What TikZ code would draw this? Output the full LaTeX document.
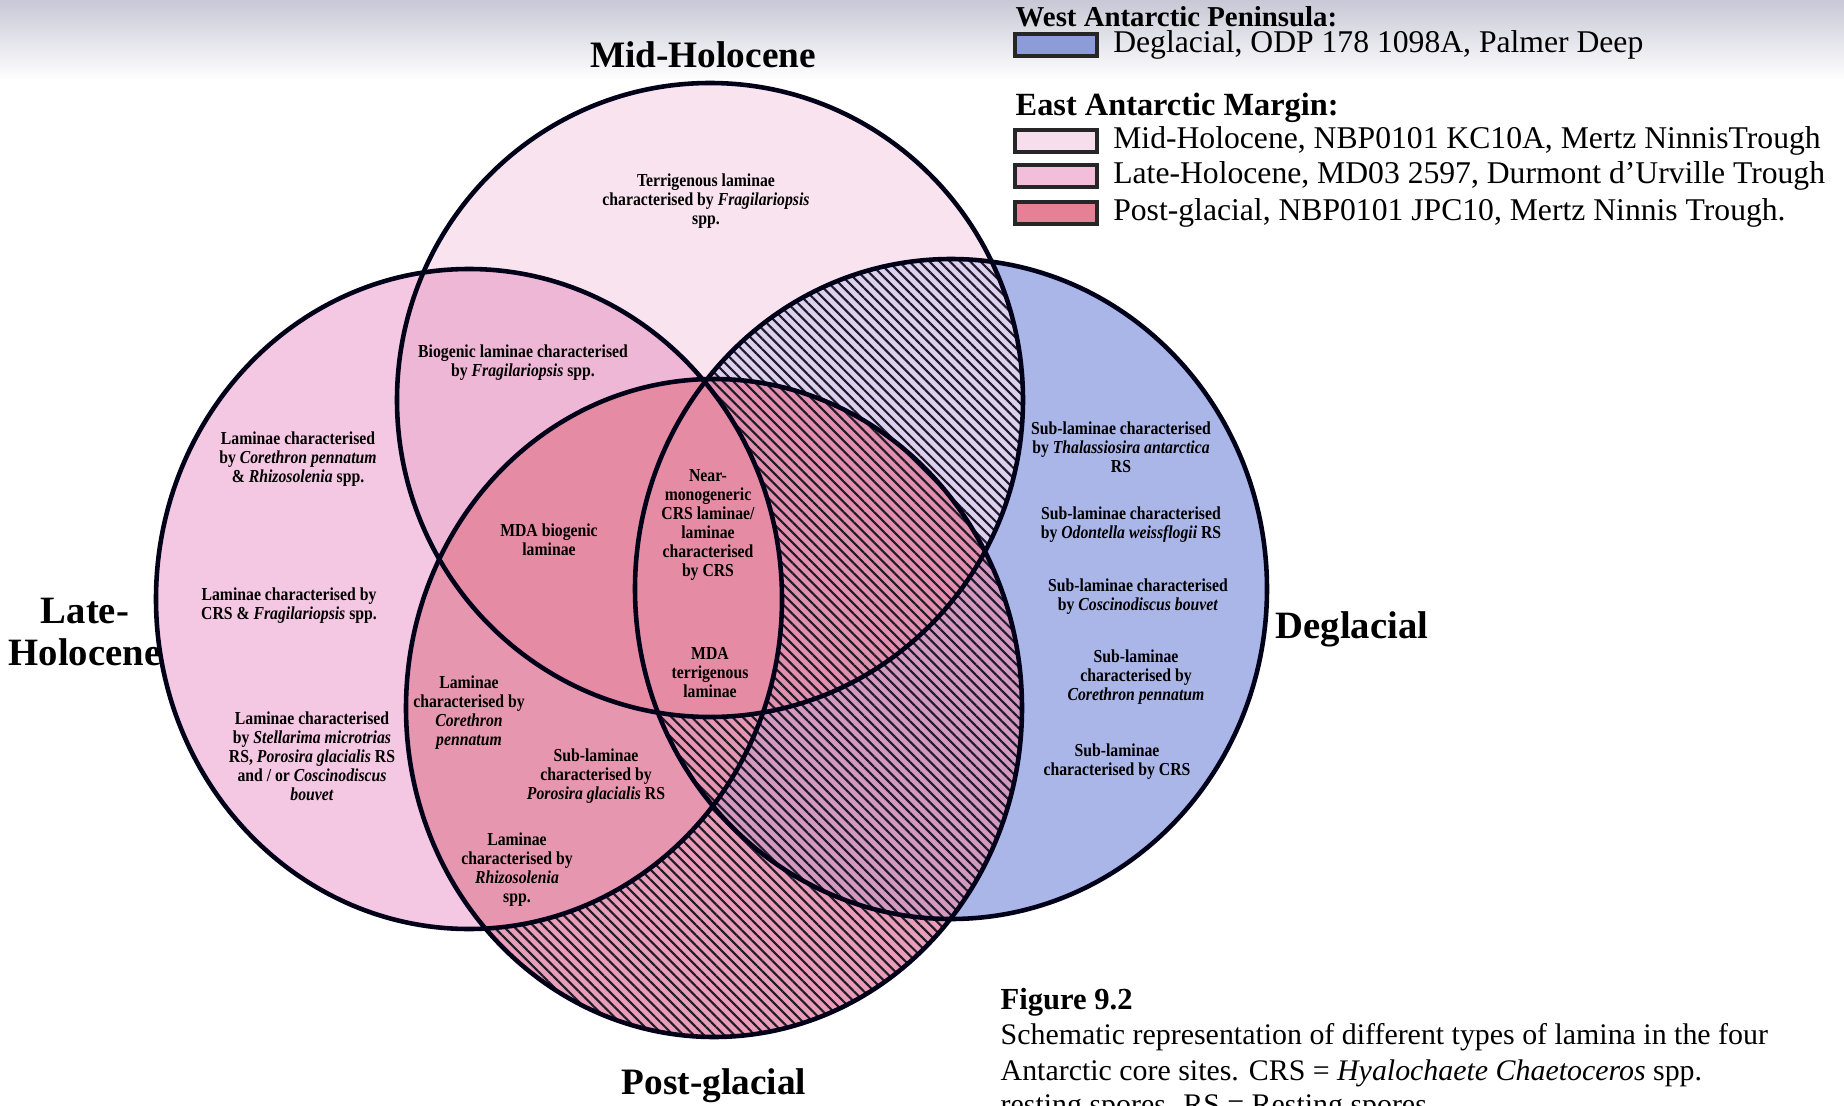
\documentclass[tikz,border=0pt]{standalone}
\usepackage{fontspec}
\setmainfont{Liberation Serif}
\newfontfamily\lamfont[FakeStretch=0.86]{Liberation Serif}
\usetikzlibrary{positioning,patterns.meta}

% 填充颜色
\definecolor{midfill}{HTML}{F8E3EF}
\definecolor{latefill}{HTML}{F4C7E2}
\definecolor{midlatefill}{HTML}{EFB7D6}
\definecolor{postfill}{HTML}{E99DB7}
\definecolor{postlatefill}{HTML}{E796B0}
\definecolor{postmidfill}{HTML}{E58CA4}
\definecolor{degfill}{HTML}{AAB5E8}
\definecolor{degmidfill}{HTML}{DDD1F0}
\definecolor{degpostfill}{HTML}{D399C0}
\definecolor{degpostmidfill}{HTML}{E290AE}
\definecolor{hatchcol}{HTML}{1E1A28}
\definecolor{degbox}{HTML}{8E9BD9}
\definecolor{midbox}{HTML}{F6DEEC}
\definecolor{latebox}{HTML}{F3BEDA}
\definecolor{postbox}{HTML}{E68094}

% 四个椭圆
\newcommand{\ellM}{(710,400) ellipse [x radius=313, y radius=317]}
\newcommand{\ellL}{(469,599) ellipse [x radius=313, y radius=330]}
\newcommand{\ellD}{(951,589) ellipse [x radius=316, y radius=330]}
\newcommand{\ellP}{(714,708) ellipse [x radius=308, y radius=329]}
\newcommand{\wholebox}{(0,0) rectangle (1844,1106)}

\begin{document}
\begin{tikzpicture}[x=0.01cm, y=-0.01cm,
    rim/.style={draw=black!90!blue, line width=1.3pt},
    hatch/.style={pattern={Lines[angle=-45, distance=2.05pt, line width=0.6pt]}, pattern color=hatchcol},
    lam/.style={align=center, inner sep=0pt, font=\lamfont\bfseries\fontsize{5.2}{5.4}\selectfont},
    site/.style={align=center, inner sep=0pt, font=\bfseries\fontsize{10.6}{11.7}\selectfont},
    legbox/.style={draw=black!85, line width=0.9pt, minimum width=0.82cm, minimum height=0.22cm, inner sep=0pt},
    legtxt/.style={anchor=west, inner sep=0pt, font=\fontsize{9}{10}\selectfont},
    captxt/.style={anchor=west, inner sep=0pt, font=\fontsize{8.5}{10}\selectfont}]
    \useasboundingbox \wholebox;
    \fill[white] \wholebox;
    \shade[top color={rgb,255:red,200;green,200;blue,214}, bottom color=white] (0,0) rectangle (1844,80);

    % 底色
    \fill[latefill] \ellL;
    \fill[midfill] \ellM;
    \begin{scope} \clip \ellL; \fill[midlatefill] \ellM; \end{scope}
    \fill[postfill] \ellP;
    \begin{scope} \clip \ellP; \fill[postlatefill] \ellL; \fill[postmidfill] \ellM; \end{scope}
    \fill[degfill] \ellD;
    \begin{scope}
        \clip \ellD; \fill[degmidfill] \ellM; \fill[degpostfill] \ellP;
        \clip \ellP; \fill[degpostmidfill] \ellM;
    \end{scope}
    \begin{scope}
        \clip \ellD; \clip \ellL; \fill[postlatefill] \ellP;
        \clip \ellP; \fill[postmidfill] \ellM;
    \end{scope}

    % 斜线
    \begin{scope} \clip \ellP; \fill[hatch, even odd rule] \wholebox \ellL; \end{scope}
    \begin{scope} \clip \ellD; \clip \ellM; \fill[hatch, even odd rule] \wholebox \ellP; \end{scope}
    \begin{scope} \clip \ellD; \clip \ellP; \clip \ellL; \fill[hatch, even odd rule] \wholebox \ellM; \end{scope}

    % 边线
    \draw[rim] \ellM;
    \draw[rim] \ellL;
    \draw[rim] \ellD;
    \draw[rim] \ellP;

    % 名称
    \node[site] (midlab) at (703,55) {Mid-Holocene};
    \node[site, font=\bfseries\fontsize{11}{11.7}\selectfont] (latelab) at (85,632) {Late-\\Holocene};
    \node[site, font=\bfseries\fontsize{11}{12}\selectfont] (deglab) at (1352,629) {Deglacial};
    \node[site] (postlab) at (714,1086) {Post-glacial};

    % 各区文字
    \node[lam] (l1) at (706,201) {Terrigenous laminae\\characterised by \textit{Fragilariopsis}\\spp.};
    \node[lam] (l2) at (523,363) {Biogenic laminae characterised\\by \textit{Fragilariopsis} spp.};
    \node[lam] (l3) at (298,459) {Laminae characterised\\by \textit{Corethron pennatum}\\\& \textit{Rhizosolenia} spp.};
    \node[lam] (l4) at (289,606) {Laminae characterised by\\CRS \& \textit{Fragilariopsis} spp.};
    \node[lam] (l5) at (312,756) {Laminae characterised\\by \textit{Stellarima microtrias}\\RS, \textit{Porosira glacialis} RS\\and / or \textit{Coscinodiscus}\\\textit{bouvet}};
    \node[lam] (l6) at (549,540) {MDA biogenic\\laminae};
    \node[lam] (l7) at (708,525) {Near-\\monogeneric\\CRS laminae/\\laminae\\characterised\\by CRS};
    \node[lam] (l8) at (710,673) {MDA\\terrigenous\\laminae};
    \node[lam] (l9) at (469,713) {Laminae\\characterised by\\\textit{Corethron}\\\textit{pennatum}};
    \node[lam] (l10) at (596,776) {Sub-laminae\\characterised by\\\textit{Porosira glacialis} RS};
    \node[lam] (l11) at (517,870) {Laminae\\characterised by\\\textit{Rhizosolenia}\\spp.};
    \node[lam] (l12) at (1121,447) {Sub-laminae characterised\\by \textit{Thalassiosira antarctica}\\RS};
    \node[lam] (l13) at (1131,525) {Sub-laminae characterised\\by \textit{Odontella weissflogii} RS};
    \node[lam] (l14) at (1138,597) {Sub-laminae characterised\\by \textit{Coscinodiscus bouvet}};
    \node[lam] (l15) at (1136,677) {Sub-laminae\\characterised by\\\textit{Corethron pennatum}};
    \node[lam] (l16) at (1117,762) {Sub-laminae\\characterised by CRS};

    % 图例
    \node[anchor=west, inner sep=0pt, font=\bfseries\fontsize{8.2}{9}\selectfont] (west) at (1015,17) {West Antarctic Peninsula:};
    \node[legbox, fill=degbox] (k1) at (1056,45) {};
    \node[legtxt, right=0.14cm of k1] (e1) {Deglacial, ODP 178 1098A, Palmer Deep};
    \node[anchor=west, inner sep=0pt, font=\bfseries\fontsize{9.2}{10}\selectfont] (east) at (1015,108) {East Antarctic Margin:};
    \node[legbox, fill=midbox] (k2) at (1056,141) {};
    \node[legtxt, right=0.14cm of k2] (e2) {Mid-Holocene, NBP0101 KC10A, Mertz NinnisTrough};
    \node[legbox, fill=latebox] (k3) at (1056,176) {};
    \node[legtxt, right=0.14cm of k3] (e3) {Late-Holocene, MD03 2597, Durmont d'Urville Trough};
    \node[legbox, fill=postbox] (k4) at (1056,213) {};
    \node[legtxt, right=0.14cm of k4] (e4) {Post-glacial, NBP0101 JPC10, Mertz Ninnis Trough.};

    % 图注
    \node[anchor=west, inner sep=0pt, font=\bfseries\fontsize{8.7}{10}\selectfont] (figno) at (1000,1002) {Figure 9.2};
    \node[captxt] (cap1) at (1000,1037) {Schematic representation of different types of lamina in the four};
    \node[captxt] (cap2) at (1000,1073) {Antarctic core sites. CRS = \textit{Hyalochaete Chaetoceros} spp.};
    \node[captxt] (cap3) at (1000,1108) {resting spores. RS = Resting spores.};
\end{tikzpicture}
\end{document}
